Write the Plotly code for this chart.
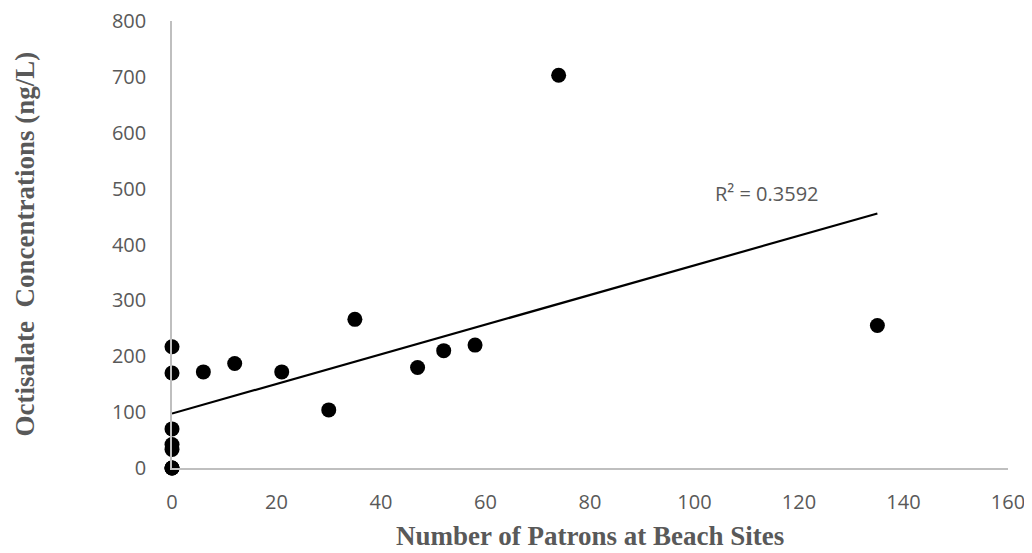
import numpy as np
import plotly.graph_objects as go

# Data
patrons = [0, 0, 0, 0, 0, 0, 0, 0, 6, 12, 21, 30, 35, 47, 52, 58, 74, 135]
octisalate = [217, 170, 70, 42, 33, 0, 0, 0, 172, 187, 172, 104, 266, 180, 210, 220, 703, 255]
x_ticks = [0, 20, 40, 60, 80, 100, 120, 140, 160]
y_ticks = [0, 100, 200, 300, 400, 500, 600, 700, 800]
r2_label = "R² = 0.3592"
x_title = "Number of Patrons at Beach Sites"
y_title = "Octisalate  Concentrations (ng/L)"

slope, intercept = np.polyfit(patrons, octisalate, 1)
x_fit = [min(patrons), max(patrons)]
y_fit = [slope * v + intercept for v in x_fit]

gray = "#595959"
sans = "Open Sans, Noto Sans, sans-serif"
tick_font = dict(family=sans, size=20, color=gray)
title_font = dict(family="Liberation Serif, Times New Roman, serif", size=27, color=gray)

# figure sits 8px in from the page corner (body margin)
W, H = 1024, 545
L, R, T, B = 164, 24, 12.5, 85.3
pw, ph = W - L - R, H - T - B

fig = go.Figure()
fig.add_trace(go.Scatter(x=x_fit, y=y_fit, mode="lines",
                         line=dict(color="black", width=2.2),
                         hoverinfo="skip", showlegend=False, cliponaxis=False))
fig.add_trace(go.Scatter(x=patrons, y=octisalate, mode="markers",
                         marker=dict(color="black", size=15),
                         showlegend=False, cliponaxis=False))

fig.add_annotation(x=113.9, y=491, text=r2_label, showarrow=False,
                   font=dict(family=sans, size=20, color=gray),
                   xanchor="center", yanchor="middle")

fig.add_annotation(xref="paper", yref="paper", x=0.5, y=(H - B - (536 - 8)) / ph,
                   text="<b>" + x_title + "</b>", showarrow=False,
                   font=title_font, xanchor="center", yanchor="middle")
fig.add_annotation(xref="paper", yref="paper", x=((24 - 8) - L) / pw, y=0.5,
                   text="<b>" + y_title + "</b>", showarrow=False, textangle=-90,
                   font=title_font, xanchor="center", yanchor="middle")

fig.update_layout(
    width=W, height=H,
    margin=dict(l=L, r=R, t=T, b=B, autoexpand=False),
    paper_bgcolor="white", plot_bgcolor="white",
    xaxis=dict(range=[0, 160], tickvals=x_ticks, showgrid=False, zeroline=False,
               showline=True, linecolor="#bfbfbf", linewidth=1.5,
               ticks="outside", ticklen=15, tickcolor="rgba(0,0,0,0)",
               tickfont=tick_font, ticklabeloverflow="allow", automargin=False),
    yaxis=dict(range=[0, 800], tickvals=y_ticks, showgrid=False, zeroline=False,
               showline=True, linecolor="#bfbfbf", linewidth=1.5,
               ticks="outside", ticklen=20, tickcolor="rgba(0,0,0,0)",
               tickfont=tick_font, ticklabeloverflow="allow", automargin=False),
)

fig.write_html("out.html")
